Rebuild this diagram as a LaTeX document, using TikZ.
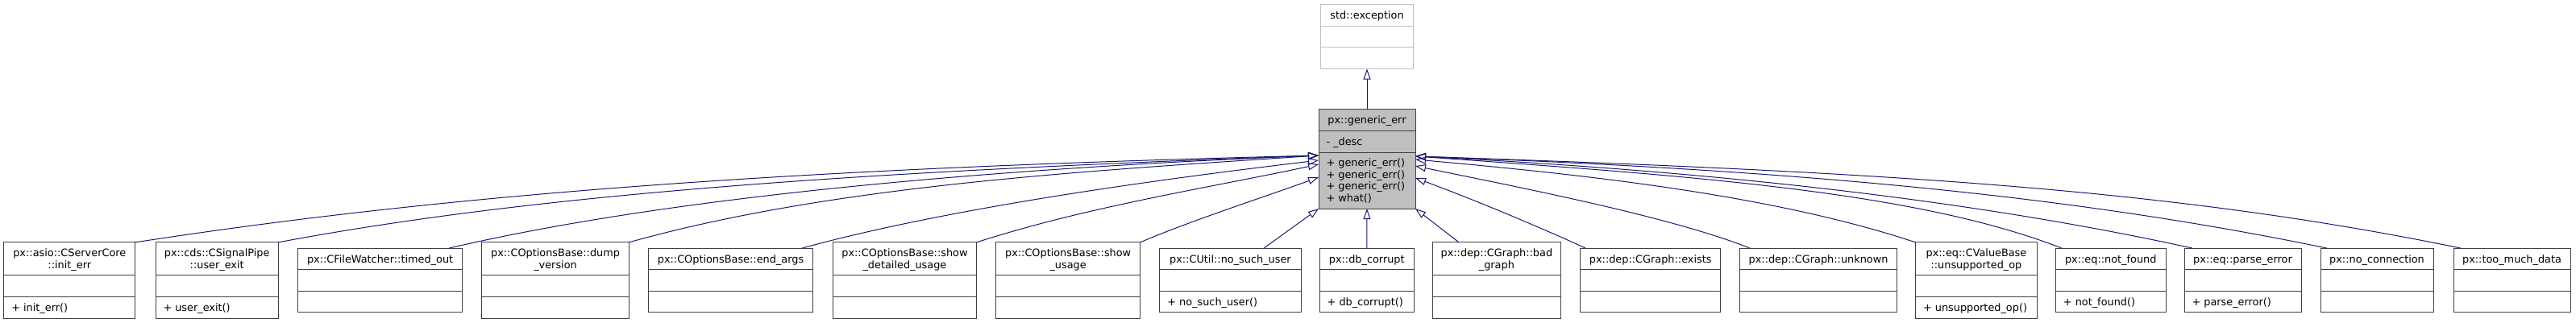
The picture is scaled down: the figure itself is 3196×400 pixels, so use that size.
\documentclass[tikz,border=0pt]{standalone}
\usepackage{fontspec}
\setmainfont{DejaVu Sans}
\usetikzlibrary{positioning,arrows.meta,shapes.multipart}
\definecolor{edgeblue}{RGB}{25,25,112}
\newcommand{\pstr}{\rule[-8.2pt]{0pt}{25.6pt}}
\newcommand{\twoln}[2]{\begin{tabular}[t]{@{}c@{}}\rule{0pt}{17.4pt}#1\\#2\rule[-8.2pt]{0pt}{8.2pt}\end{tabular}}

\begin{document}
\begin{tikzpicture}[x=1pt,y=-1pt,
  cls/.style={rectangle split,rectangle split parts=3,draw=black!75,fill=white,line width=1pt,
    inner xsep=9.5pt,inner ysep=0pt,outer sep=0pt,rectangle split part align={center,left,left},
    font=\fontsize{12.85}{14.5}\selectfont,anchor=west},
  ext/.style={cls,draw=black!25,anchor=north},
  cur/.style={cls,fill=black!25,anchor=north},
  inh/.style={draw=edgeblue,line width=1pt,-{Triangle[open,length=13pt,width=9pt]}}]
\useasboundingbox (0,0) rectangle (3196,400);

% base classes
\node[ext,minimum width=115pt] (exc) at (1696,5.7) {\pstr std::exception\nodepart{two}\pstr\nodepart{three}\pstr};
\node[cur,minimum width=120pt,below=50.3pt of exc] (gen) {\pstr px::generic\_err\nodepart{two}\pstr- \_desc
  \nodepart{three}\begin{tabular}[t]{@{}l@{}}\rule{0pt}{17.4pt}+ generic\_err()\\+ generic\_err()\\+ generic\_err()\\+ what()\rule[-8.2pt]{0pt}{8.2pt}\end{tabular}};

% derived classes
\node[cls,minimum width=163pt] (c1) at (4.8,348) {\twoln{px::asio::CServerCore}{::init\_err}\nodepart{two}\pstr\nodepart{three}\pstr+ init\_err()};
\node[cls,minimum width=152.4pt] (c2) at (193,348) {\twoln{px::cds::CSignalPipe}{::user\_exit}\nodepart{two}\pstr\nodepart{three}\pstr+ user\_exit()};
\node[cls,minimum width=204.2pt] (c3) at (369.5,348) {\pstr px::CFileWatcher::timed\_out\nodepart{two}\pstr\nodepart{three}\pstr};
\node[cls,minimum width=182.5pt] (c4) at (597.8,348) {\twoln{px::COptionsBase::dump}{\_version}\nodepart{two}\pstr\nodepart{three}\pstr};
\node[cls,minimum width=204.2pt] (c5) at (804.4,348) {\pstr px::COptionsBase::end\_args\nodepart{two}\pstr\nodepart{three}\pstr};
\node[cls,minimum width=178.1pt] (c6) at (1033.4,348) {\twoln{px::COptionsBase::show}{\_detailed\_usage}\nodepart{two}\pstr\nodepart{three}\pstr};
\node[cls,minimum width=179.1pt] (c7) at (1235.6,348) {\twoln{px::COptionsBase::show}{\_usage}\nodepart{two}\pstr\nodepart{three}\pstr};
\node[cls,minimum width=175.2pt] (c8) at (1438.8,348) {\pstr px::CUtil::no\_such\_user\nodepart{two}\pstr\nodepart{three}\pstr+ no\_such\_user()};
\node[cls,minimum width=117.1pt] (c9) at (1637.2,348) {\pstr px::db\_corrupt\nodepart{two}\pstr\nodepart{three}\pstr+ db\_corrupt()};
\node[cls,minimum width=158.3pt] (c10) at (1777.7,348) {\twoln{px::dep::CGraph::bad}{\_graph}\nodepart{two}\pstr\nodepart{three}\pstr};
\node[cls,minimum width=173.6pt] (c11) at (1960.9,348) {\pstr px::dep::CGraph::exists\nodepart{two}\pstr\nodepart{three}\pstr};
\node[cls,minimum width=194.2pt] (c12) at (2158.9,348) {\pstr px::dep::CGraph::unknown\nodepart{two}\pstr\nodepart{three}\pstr};
\node[cls,minimum width=150.9pt] (c13) at (2376.5,348) {\twoln{px::eq::CValueBase}{::unsupported\_op}\nodepart{two}\pstr\nodepart{three}\pstr+ unsupported\_op()};
\node[cls,minimum width=136.6pt] (c14) at (2550.4,348) {\pstr px::eq::not\_found\nodepart{two}\pstr\nodepart{three}\pstr+ not\_found()};
\node[cls,minimum width=145pt] (c15) at (2710,348) {\pstr px::eq::parse\_error\nodepart{two}\pstr\nodepart{three}\pstr+ parse\_error()};
\node[cls,minimum width=140pt] (c16) at (2879,348) {\pstr px::no\_connection\nodepart{two}\pstr\nodepart{three}\pstr};
\node[cls,minimum width=145pt] (c17) at (3044,348) {\pstr px::too\_much\_data\nodepart{two}\pstr\nodepart{three}\pstr};

% inheritance
\draw[inh] (gen.north) -- (exc.south);
\draw[inh] (c1.north east) .. controls +(420,-65) and +(-600,15) .. (gen.west |- 0,193);
\draw[inh] (c2.north east) .. controls +(350,-66) and +(-500,18) .. (gen.west |- 0,193);
\draw[inh] (557,0 |- c3.north) .. controls +(300,-70) and +(-350,14) .. (gen.west |- 0,193);
\draw[inh] (c4.north east) .. controls +(250,-70) and +(-300,20) .. (gen.west |- 0,193);
\draw[inh] (995,0 |- c5.north) .. controls +(200,-55) and +(-150,18) .. (gen.west |- 0,199);
\draw[inh] (c6.north east) .. controls +(140,-45) and +(-140,30) .. (gen.west |- 0,204);
\draw[inh] (c7.north east) .. controls +(60,-26) and +(-60,22) .. (gen.west |- 0,220);
\draw[inh] (1568,0 |- c8.north) -- (gen.south west);
\draw[inh] (c9.north) -- (gen.south);
\draw[inh] (1810,0 |- c10.north) -- (gen.south east);
\draw[inh] (1967,0 |- c11.north) .. controls +(-60,-28) and +(60,22) .. (gen.east |- 0,221);
\draw[inh] (2171,0 |- c12.north) .. controls +(-100,-40) and +(120,25) .. (gen.east |- 0,206);
\draw[inh] (c13.north west) .. controls +(-180,-60) and +(200,18) .. (gen.east |- 0,198);
\draw[inh] (2558,0 |- c14.north) .. controls +(-180,-70) and +(350,25) .. (gen.east |- 0,194);
\draw[inh] (2720,0 |- c15.north) .. controls +(-250,-55) and +(400,20) .. (gen.east |- 0,194);
\draw[inh] (2887,0 |- c16.north) .. controls +(-300,-62) and +(500,18) .. (gen.east |- 0,194);
\draw[inh] (3053,0 |- c17.north) .. controls +(-350,-72) and +(600,20) .. (gen.east |- 0,194);
\end{tikzpicture}
\end{document}
